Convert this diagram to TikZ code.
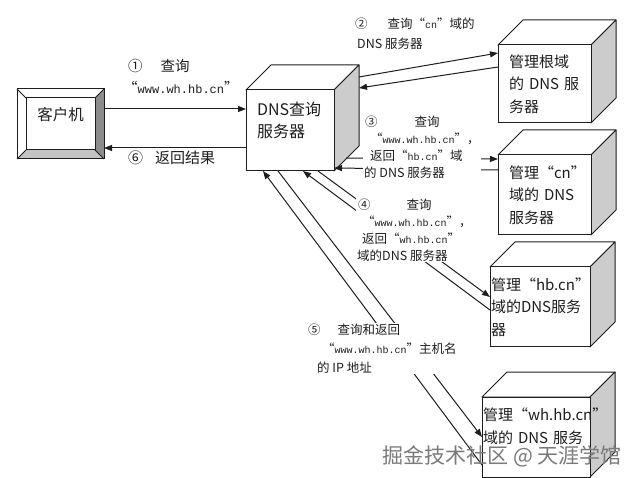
\documentclass[tikz,border=0pt]{standalone}
\usepackage{fontspec}
\setmainfont{Noto Sans CJK SC}
\newfontfamily\urlf{Liberation Mono}[Scale=0.8]
\usetikzlibrary{arrows.meta,positioning}
\definecolor{ink}{HTML}{1E1E1E}
\definecolor{side}{HTML}{CCCCCC}
\definecolor{bevel}{HTML}{8C8C8C}
\definecolor{bevellight}{HTML}{C4C4C4}
\definecolor{mark}{HTML}{7A7A7A}
\newcommand{\www}{{\urlf www.wh.hb.cn}}
\tikzset{
  every node/.style={text=ink},
  cube/.style={draw=ink, fill=white, line width=1pt, outer sep=0pt, anchor=north west, align=left,
    inner xsep=11pt, inner ysep=0pt, font=\fontsize{15}{22.5}\selectfont,
    append after command={\pgfextra{
      \draw[ink, line width=1pt, line join=round, fill=white]
        (\tikzlastnode.north west) -- ++(25,-25)
        -- ([xshift=25pt,yshift=25pt]\tikzlastnode.north east) -- (\tikzlastnode.north east) -- cycle;
      \draw[ink, line width=1pt, line join=round, fill=side]
        (\tikzlastnode.north east) -- ++(25,-25)
        -- ([xshift=25pt,yshift=25pt]\tikzlastnode.south east) -- (\tikzlastnode.south east) -- cycle;
    }}},
  bevelbox/.style={draw=ink, line width=1pt, outer sep=0pt, align=center,
    minimum width=87pt, minimum height=70pt, font=\fontsize{15.5}{20}\selectfont,
    append after command={\pgfextra{
      \fill[bevel] (\tikzlastnode.north east) -- (\tikzlastnode.south east) -- ++(-9,-9)
        -- ([xshift=-9pt,yshift=-9pt]\tikzlastnode.north east) -- cycle;
      \fill[bevellight] (\tikzlastnode.south west) -- (\tikzlastnode.south east) -- ++(-9,-9)
        -- ([xshift=9pt,yshift=9pt]\tikzlastnode.south west) -- cycle;
      \draw[ink, line width=1pt] ([xshift=9pt,yshift=-9pt]\tikzlastnode.north west)
        rectangle ([xshift=-9pt,yshift=9pt]\tikzlastnode.south east);
      \draw[ink, line width=0.8pt] (\tikzlastnode.north west) -- ++(9,9)
        (\tikzlastnode.north east) -- ++(-9,9) (\tikzlastnode.south west) -- ++(9,-9)
        (\tikzlastnode.south east) -- ++(-9,-9);
    }}},
  link/.style={-{Triangle[length=8pt,width=6pt]}, draw=ink, line width=1pt},
  note/.style={fill=white, inner sep=1pt, align=left, anchor=north west, font=\fontsize{12.5}{17}\selectfont},
  bignote/.style={inner sep=1pt, align=left, anchor=north west, font=\fontsize{14.5}{22}\selectfont},
  watermark/.style={text=mark, font=\fontsize{21}{24}\selectfont},
}
\begin{document}
\begin{tikzpicture}[x=1pt, y=-1pt]
\fill[white] (0,0) rectangle (640,478);
\useasboundingbox (0,0) rectangle (640,478);

\node[bevelbox] (client) at (60.5,124) {客户机\\\mbox{}};
\node[cube, minimum width=88pt, minimum height=81pt, text width=66pt, font=\fontsize{16}{22}\selectfont] (dns) at (246,90) {DNS查询\\服务器\\\mbox{}};
\node[cube, minimum width=93pt, minimum height=78pt, text width=71pt] (root) at (498,45) {管理根域\\的 DNS 服\\务器};
\node[cube, minimum width=93pt, minimum height=80pt, text width=71pt] (cn) at (498,155) {管理“cn”\\域的 DNS\\服务器};
\node[cube, minimum width=100pt, minimum height=80pt, text width=98pt, inner xsep=1pt] (hb) at (490,267) {管理“hb.cn”\\域的DNS服务\\器};
\node[cube, minimum width=108pt, minimum height=80pt, text width=106pt, inner xsep=1pt] (wh) at (482,397) {管理“wh.hb.cn”\\域的 DNS 服务\\\mbox{}};

\draw[link] ([yshift=15pt]client.east) -- ([yshift=21.5pt]dns.west);
\draw[link] ([yshift=-17.5pt]dns.west) -- ([yshift=-24pt]client.east);
\draw[link] ([xshift=25pt,yshift=13pt]dns.north east) -- ([yshift=31pt]root.west);
\draw[link] ([yshift=17pt]root.west) -- ([xshift=25pt,yshift=2pt]dns.north east);
\draw[link] ([xshift=12pt,yshift=13pt]dns.south east) -- ([yshift=36pt]cn.west);
\draw[link] ([yshift=25pt]cn.west) -- ([yshift=-37.5pt]dns.east);
\draw[link] ([xshift=-16pt]dns.south east) -- ([yshift=10pt]hb.west);
\draw[link] ([yshift=-3pt]hb.west) -- ([xshift=-31pt]dns.south east);
\draw[link] ([xshift=-56pt]dns.south east) -- (wh.west);
\draw[link] ([yshift=-28pt]wh.west) -- ([xshift=-71pt]dns.south east);

\node[bignote] (q1) at (122,57.6) {\hspace{5pt}①\hspace{18pt}查询\\“{\urlf\fontsize{15}{22}\selectfont www.wh.hb.cn}”};
\node[bignote, font=\fontsize{15}{22}\selectfont] (q6) at (127,149.3) {⑥\hspace{12pt}返回结果};
\node[note] (q2) at (354,16.5) {②\hspace{20pt}查询“{\urlf cn}”域的\\[3pt]\hspace{2pt}DNS 服务器};
\node[note] (q3) at (363,114.5) {\hspace{1pt}③\hspace{37pt}查询\\\hspace{6pt}“\www”，\\\hspace{6pt}返回“{\urlf hb.cn}”域\\的 DNS 服务器};
\node[note] (q4) at (356,197.5) {\hspace{1pt}④\hspace{36pt}查询\\\hspace{5pt}“\www”，\\\hspace{5pt}返回“{\urlf wh.hb.cn}”\\域的DNS 服务器};
\node[note] (q5) at (306,322.5) {\hspace{1pt}⑤\hspace{17pt}查询和返回\\[2pt]\hspace{15pt}“\www”主机名\\[2pt]\hspace{10pt}的 IP 地址};

\node[watermark] (wm) at (502,456) {掘金技术社区 @ 天涯学馆};
\end{tikzpicture}
\end{document}
